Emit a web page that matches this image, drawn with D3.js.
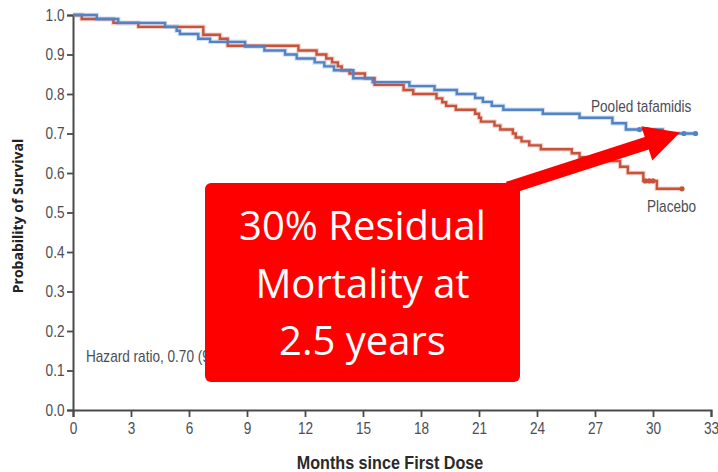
<!DOCTYPE html>
<html>
<head>
<meta charset="utf-8">
<script src="https://cdn.jsdelivr.net/npm/d3@7"></script>
<style>
  html, body { margin: 0; padding: 0; background: #fff; }
  svg { display: block; }
  .cond { font-family: "Liberation Sans", Arial, sans-serif; }
</style>
</head>
<body>
<svg id="chart" width="718" height="472"></svg>
<script>
// Kaplan–Meier survival steps: time (months) at which each survival level starts
const tafamidisTimes = [0, 1.23, 2.34, 4.76, 5.36, 5.53, 6.48, 7.09, 8.9, 9.9, 10.97, 11.57, 12.5, 13.0, 13.5, 14.5, 15.5, 17.4, 18.7, 19.85, 20.8, 21.2, 21.66, 22.26, 24.3, 26.2, 27.9, 28.6, 30.5];
const tafamidisSurvival = [1.0, 0.99, 0.98, 0.97, 0.96, 0.952, 0.94, 0.932, 0.92, 0.91, 0.90, 0.89, 0.88, 0.87, 0.86, 0.84, 0.83, 0.82, 0.81, 0.80, 0.79, 0.78, 0.77, 0.76, 0.75, 0.74, 0.726, 0.71, 0.70];
const tafamidisEnd = 32.2;
const tafamidisCensored = [29.3, 29.7, 31.6, 32.2];

const placeboTimes = [0, 0.45, 2.09, 3.38, 6.74, 7.6, 8.0, 11.66, 12.6, 13.1, 13.4, 13.7, 13.9, 14.3, 15.1, 15.6, 17.1, 17.6, 18.8, 19.1, 19.3, 19.8, 20.8, 21.0, 21.1, 21.8, 22.1, 22.75, 22.9, 23.2, 23.6, 24.2, 25.8, 26.2, 27.5, 28.3, 28.7, 29.5, 30.2];
const placeboSurvival = [1.0, 0.99, 0.98, 0.97, 0.95, 0.94, 0.922, 0.91, 0.90, 0.89, 0.88, 0.87, 0.86, 0.852, 0.84, 0.823, 0.81, 0.80, 0.789, 0.779, 0.77, 0.76, 0.75, 0.74, 0.73, 0.72, 0.71, 0.70, 0.69, 0.68, 0.67, 0.66, 0.65, 0.64, 0.63, 0.616, 0.60, 0.58, 0.56];
const placeboEnd = 31.5;
const placeboCensored = [29.6, 29.8, 30.0, 31.5];

const xTicks = [0, 3, 6, 9, 12, 15, 18, 21, 24, 27, 30, 33];
const yTicks = [0, 0.1, 0.2, 0.3, 0.4, 0.5, 0.6, 0.7, 0.8, 0.9, 1.0];

const seriesNames = ["Pooled tafamidis", "Placebo"];
const hazardText = "Hazard ratio, 0.70 (95% CI, 0.51\u20130.96)";
const calloutLines = ["30% Residual", "Mortality at", "2.5 years"];

const svg = d3.select("#chart");
const x = d3.scaleLinear().domain([0, 33]).range([73, 711]);
const y = d3.scaleLinear().domain([0, 1]).range([410, 15]);

const axisColor = "#4a4a4a";
const textColor = "#4d4d55";
const blue = "#5183c6";
const red = "#c9523b";
const squeeze = 0.85;   // horizontal condensing of the figure's text face

// Axes
const yAxis = svg.append("g").attr("transform", `translate(${x(0)},0)`)
  .call(d3.axisLeft(y).tickValues(yTicks).tickFormat(d3.format(".1f")).tickSize(6).tickPadding(4));
const xAxis = svg.append("g").attr("transform", `translate(0,${y(0)})`)
  .call(d3.axisBottom(x).tickValues(xTicks).tickFormat(d3.format("d")).tickSize(7).tickPadding(6));
[yAxis, xAxis].forEach(g => {
  g.select(".domain").attr("stroke", axisColor).attr("stroke-width", 2);
  g.selectAll(".tick line").attr("stroke", axisColor).attr("stroke-width", 1.8);
  g.selectAll(".tick text").attr("class", "cond").attr("font-size", 16).attr("fill", textColor)
    .attr("transform", `scale(${squeeze},1)`);
});

// Condensed text helper
function condText(txt, px, py, size, opts = {}) {
  return svg.append("text").attr("class", "cond")
    .attr("transform", `translate(${px},${py}) scale(${opts.squeeze || squeeze},1)`)
    .attr("text-anchor", opts.anchor || "start")
    .attr("font-size", size)
    .attr("font-weight", opts.weight || "normal")
    .attr("fill", opts.fill || textColor)
    .text(txt);
}

// Axis titles
svg.append("text")
  .attr("transform", `translate(23,216) rotate(-90)`)
  .attr("text-anchor", "middle")
  .attr("font-family", "'Open Sans', sans-serif")
  .attr("font-weight", "bold").attr("font-size", 14).attr("fill", "#222")
  .text("Probability of Survival");
condText("Months since First Dose", 390, 469, 19, { anchor: "middle", weight: "bold", fill: "#2a2a2a" });

// Survival curves
function stepPoints(times, surv, end) {
  const pts = times.map((t, i) => [t, surv[i]]);
  pts.push([end, surv[surv.length - 1]]);
  return pts;
}
function survAt(times, surv, t) {
  let v = surv[0];
  times.forEach((tt, i) => { if (tt <= t) v = surv[i]; });
  return v;
}
const line = d3.line().x(d => x(d[0])).y(d => y(d[1])).curve(d3.curveStepAfter);

const curves = [
  { times: placeboTimes, surv: placeboSurvival, end: placeboEnd, cens: placeboCensored, color: red },
  { times: tafamidisTimes, surv: tafamidisSurvival, end: tafamidisEnd, cens: tafamidisCensored, color: blue }
];
curves.forEach(c => {
  const pts = stepPoints(c.times, c.surv, c.end);
  svg.append("path").datum(pts).attr("d", line)
    .attr("fill", "none").attr("stroke", c.color).attr("stroke-opacity", 0.25).attr("stroke-width", 4.5);
  svg.append("path").datum(pts).attr("d", line)
    .attr("fill", "none").attr("stroke", c.color).attr("stroke-width", 2.4);
  svg.selectAll(null).data(c.cens).enter().append("circle")
    .attr("cx", d => x(d)).attr("cy", d => y(survAt(c.times, c.surv, d)))
    .attr("r", 2.6).attr("fill", c.color);
});

// Series labels
condText(seriesNames[0], 591, 111.5, 16);
condText(seriesNames[1], 647, 211.5, 16);

// Hazard ratio note
condText(hazardText, 86, 361.5, 16);

// Callout box
const boxX0 = 205, boxX1 = 520, boxY0 = 183, boxY1 = 382;
svg.append("rect")
  .attr("x", boxX0).attr("y", boxY0)
  .attr("width", boxX1 - boxX0).attr("height", boxY1 - boxY0)
  .attr("rx", 6).attr("ry", 6)
  .attr("fill", "#ff0000");
svg.selectAll(null).data(calloutLines).enter().append("text")
  .attr("x", (boxX0 + boxX1) / 2)
  .attr("y", (d, i) => 240 + i * 57.5)
  .attr("text-anchor", "middle")
  .attr("font-family", "'Open Sans', sans-serif")
  .attr("font-size", 40).attr("fill", "#fff")
  .text(d => d);

// Arrow from the callout to the end of the tafamidis curve
const tail = [x(22.5), y(0.562)];
const tip = [x(31.4), y(0.7025)];
const dx = tip[0] - tail[0], dy = tip[1] - tail[1];
const len = Math.hypot(dx, dy);
const ux = dx / len, uy = dy / len, nx = -uy, ny = ux;
const shaftW = 13, headW = 36, headL = 35;
const base = [tip[0] - ux * headL, tip[1] - uy * headL];
const arrowPts = [
  [tail[0] + nx * shaftW / 2, tail[1] + ny * shaftW / 2],
  [base[0] + nx * shaftW / 2, base[1] + ny * shaftW / 2],
  [base[0] + nx * headW / 2, base[1] + ny * headW / 2],
  tip,
  [base[0] - nx * headW / 2, base[1] - ny * headW / 2],
  [base[0] - nx * shaftW / 2, base[1] - ny * shaftW / 2],
  [tail[0] - nx * shaftW / 2, tail[1] - ny * shaftW / 2]
];
svg.append("polygon")
  .attr("points", arrowPts.map(p => p.join(",")).join(" "))
  .attr("fill", "#ff0000");
</script>
</body>
</html>
